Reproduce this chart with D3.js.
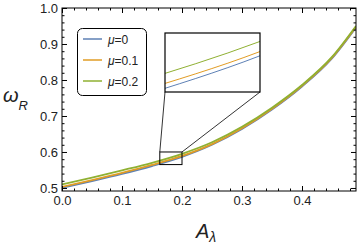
<!DOCTYPE html>
<meta charset="utf-8">
<style>
  body { margin: 0; background: #fff; }
  svg { display: block; font-family: "Liberation Sans", Arial, sans-serif; }
  .tick text { font-size: 13px; fill: #222; }
</style>
<body>
<svg id="chart" width="360" height="246"></svg>
<script src="https://d3js.org/d3.v7.min.js"></script>
<script>
  // A_lambda sample points and omega_R
  const aLambda = [0, 0.05, 0.1, 0.15, 0.2, 0.25, 0.3, 0.35, 0.4, 0.45, 0.49];
  const mu0  = [0.500, 0.519, 0.539, 0.561, 0.5865, 0.620, 0.664, 0.718, 0.782, 0.860, 0.946];
  const mu01 = [0.503, 0.522, 0.542, 0.564, 0.589, 0.622, 0.666, 0.720, 0.784, 0.862, 0.948];
  const mu02 = [0.510, 0.529, 0.549, 0.570, 0.595, 0.627, 0.670, 0.723, 0.786, 0.864, 0.950];
  const seriesNames = ["0", "0.1", "0.2"];
  const seriesColors = ["#5E81B5", "#E19C24", "#8FB032"];
  const xTicks = [0, 0.1, 0.2, 0.3, 0.4];
  const yTicks = [0.5, 0.6, 0.7, 0.8, 0.9, 1.0];
  const zoomX = [0.163, 0.2];
  const zoomY = [0.565, 0.6];

  const series = [mu0, mu01, mu02].map((vals, i) => ({
    name: seriesNames[i],
    color: seriesColors[i],
    pts: aLambda.map((a, j) => [a, vals[j]])
  }));

  const svg = d3.select("#chart");
  const x = d3.scaleLinear().domain([0, 0.49]).range([62, 356]);
  const y = d3.scaleLinear().domain([0.4916, 1.0]).range([191, 8]);

  const minorX = d3.range(0, 0.49, 0.02).filter(v => Math.abs(v * 10 - Math.round(v * 10)) > 1e-6);
  const minorY = d3.range(0.5, 1.0, 0.02).filter(v => Math.abs(v * 10 - Math.round(v * 10)) > 1e-6);

  svg.append("defs").append("clipPath").attr("id", "plotclip")
    .append("rect").attr("x", 62).attr("y", 8).attr("width", 294).attr("height", 183);

  // curves
  const line = d3.line().x(d => x(d[0])).y(d => y(d[1])).curve(d3.curveMonotoneX);
  svg.append("g").attr("clip-path", "url(#plotclip)")
    .selectAll("path").data(series).join("path")
    .attr("d", d => line(d.pts))
    .attr("fill", "none")
    .attr("stroke", d => d.color)
    .attr("stroke-width", 1.8);

  // frame axes (ticks inward)
  function styleAxis(g) {
    g.select(".domain").remove();
    g.selectAll(".tick line").attr("stroke", "#000");
  }
  svg.append("g").attr("transform", "translate(0,191)")
    .call(d3.axisBottom(x).tickValues(xTicks).tickSize(-5).tickPadding(5).tickFormat(d3.format(".1f")))
    .call(styleAxis);
  svg.append("g").attr("transform", "translate(0,191)")
    .call(d3.axisBottom(x).tickValues(minorX).tickSize(-2.5).tickFormat(""))
    .call(styleAxis);
  svg.append("g").attr("transform", "translate(0,8)")
    .call(d3.axisTop(x).tickValues(xTicks).tickSize(-5).tickFormat(""))
    .call(styleAxis);
  svg.append("g").attr("transform", "translate(0,8)")
    .call(d3.axisTop(x).tickValues(minorX).tickSize(-2.5).tickFormat(""))
    .call(styleAxis);
  svg.append("g").attr("transform", "translate(62,0)")
    .call(d3.axisLeft(y).tickValues(yTicks).tickSize(-5).tickPadding(4).tickFormat(d3.format(".1f")))
    .call(styleAxis);
  svg.append("g").attr("transform", "translate(62,0)")
    .call(d3.axisLeft(y).tickValues(minorY).tickSize(-2.5).tickFormat(""))
    .call(styleAxis);
  svg.append("g").attr("transform", "translate(356,0)")
    .call(d3.axisRight(y).tickValues(yTicks).tickSize(-5).tickFormat(""))
    .call(styleAxis);
  svg.append("g").attr("transform", "translate(356,0)")
    .call(d3.axisRight(y).tickValues(minorY).tickSize(-2.5).tickFormat(""))
    .call(styleAxis);

  svg.append("rect")
    .attr("x", 62).attr("y", 8).attr("width", 294).attr("height", 183)
    .attr("fill", "none").attr("stroke", "#000").attr("stroke-width", 1);

  // zoom box and inset
  const inset = { x0: 165, x1: 260, y0: 33, y1: 92 };
  const bx0 = x(zoomX[0]), bx1 = x(zoomX[1]), by0 = y(zoomY[1]), by1 = y(zoomY[0]);
  svg.append("rect")
    .attr("x", bx0).attr("y", by0).attr("width", bx1 - bx0).attr("height", by1 - by0)
    .attr("fill", "none").attr("stroke", "#000").attr("stroke-width", 1);
  svg.append("line").attr("x1", bx0).attr("y1", by0).attr("x2", inset.x0).attr("y2", inset.y1)
    .attr("stroke", "#000").attr("stroke-width", 0.8);
  svg.append("line").attr("x1", bx1).attr("y1", by0).attr("x2", inset.x1).attr("y2", inset.y1)
    .attr("stroke", "#000").attr("stroke-width", 0.8);

  const ix = d3.scaleLinear().domain(zoomX).range([inset.x0, inset.x1]);
  const iy = d3.scaleLinear().domain(zoomY).range([inset.y1, inset.y0]);
  svg.select("defs").append("clipPath").attr("id", "insetclip")
    .append("rect").attr("x", inset.x0).attr("y", inset.y0)
    .attr("width", inset.x1 - inset.x0).attr("height", inset.y1 - inset.y0);
  svg.append("rect")
    .attr("x", inset.x0).attr("y", inset.y0)
    .attr("width", inset.x1 - inset.x0).attr("height", inset.y1 - inset.y0)
    .attr("fill", "#fff");
  const iline = d3.line().x(d => ix(d[0])).y(d => iy(d[1])).curve(d3.curveMonotoneX);
  svg.append("g").attr("clip-path", "url(#insetclip)")
    .selectAll("path").data(series).join("path")
    .attr("d", d => iline(d.pts))
    .attr("fill", "none")
    .attr("stroke", d => d.color)
    .attr("stroke-width", 1);
  svg.append("rect")
    .attr("x", inset.x0).attr("y", inset.y0)
    .attr("width", inset.x1 - inset.x0).attr("height", inset.y1 - inset.y0)
    .attr("fill", "none").attr("stroke", "#000").attr("stroke-width", 1.2);

  // legend
  const legend = svg.append("g");
  legend.append("rect")
    .attr("x", 77.5).attr("y", 28.5).attr("width", 69).attr("height", 67).attr("rx", 5)
    .attr("fill", "#fff").attr("stroke", "#000").attr("stroke-width", 1);
  series.forEach((s, i) => {
    const ly = 39 + i * 21;
    legend.append("line")
      .attr("x1", 83).attr("x2", 102).attr("y1", ly).attr("y2", ly)
      .attr("stroke", s.color).attr("stroke-width", 1.5);
    const t = legend.append("text")
      .attr("x", 108).attr("y", ly + 4.5)
      .attr("font-size", 12).attr("fill", "#222");
    t.append("tspan").attr("font-style", "italic").text("μ");
    t.append("tspan").text("=" + s.name);
  });

  // axis labels
  const yl = svg.append("text").attr("x", 3).attr("y", 102).attr("fill", "#222");
  yl.append("tspan").attr("font-size", 20).attr("font-style", "italic").text("ω");
  yl.append("tspan").attr("font-size", 13).attr("font-style", "italic").attr("dy", 8).text("R");

  const xl = svg.append("text").attr("x", 196).attr("y", 238).attr("fill", "#222");
  xl.append("tspan").attr("font-size", 20).attr("font-style", "italic").text("A");
  xl.append("tspan").attr("font-size", 14).attr("font-style", "italic").attr("dy", 4).text("λ");
</script>
</body>
